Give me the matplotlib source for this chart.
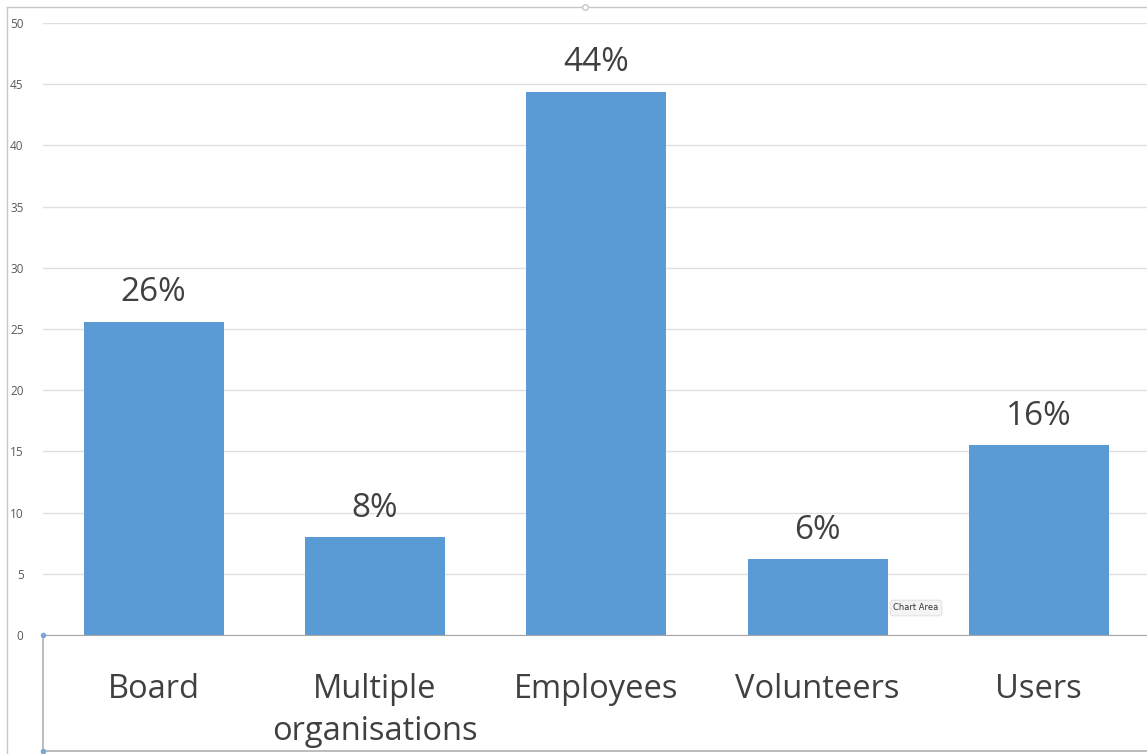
import matplotlib.pyplot as plt
from matplotlib.lines import Line2D

categories = ['Board', 'Multiple\norganisations', 'Employees', 'Volunteers', 'Users']
values = [25.6, 8.0, 44.4, 6.2, 15.5]
pct_labels = ['26%', '8%', '44%', '6%', '16%']
yticks = [0, 5, 10, 15, 20, 25, 30, 35, 40, 45, 50]

W, H = 1147, 754
fig = plt.figure(figsize=(W / 100, H / 100), dpi=100)
plt.rcParams['font.family'] = ['Open Sans', 'DejaVu Sans']

# axes placed in pixel terms of the reference
left, right, top, bottom = 43, 1149.5, 23, 635
ax = fig.add_axes([left / W, 1 - bottom / H, (right - left) / W, (bottom - top) / H])

x = range(len(categories))
ax.bar(x, values, width=0.633, color='#5b9bd5', zorder=2)
for xi, v, lab in zip(x, values, pct_labels):
    ax.text(xi, v + 1.0, lab, ha='center', va='bottom', fontsize=24, color='#404040')

ax.set_xlim(-0.5, 4.5)
ax.set_ylim(0, 50)
ax.set_yticks(yticks)
ax.set_yticklabels([str(t) for t in yticks], fontsize=8.5, color='#595959')
ax.tick_params(axis='y', length=0, pad=14)
ax.set_xticks(list(x))
ax.set_xticklabels(categories, fontsize=23.5, color='#404040', linespacing=1.4)
ax.tick_params(axis='x', length=0, pad=27)
ax.grid(axis='y', color='#e0e0e0', linewidth=1, zorder=0)
for s in ['top', 'right', 'left']:
    ax.spines[s].set_visible(False)
ax.spines['bottom'].set_color('#a6a6a6')

# outer frame pieces
def px_line(x0, y0, x1, y1, color='#c8c8c8', lw=1):
    fig.add_artist(Line2D([x0 / W, x1 / W], [1 - y0 / H, 1 - y1 / H],
                         color=color, linewidth=lw, transform=fig.transFigure))

px_line(7, 7, W, 7)
px_line(7, 7, 7, H)
px_line(43, 635, 43, 751, color='#b0b0b0', lw=1.2)
px_line(43, 751, W, 751, color='#b0b0b0', lw=1.2)
for (px, py) in [(43, 635), (43, 751)]:
    fig.add_artist(Line2D([px / W], [1 - py / H], marker='o', markersize=3,
                         color='#7aa7d6', transform=fig.transFigure))
fig.add_artist(Line2D([585 / W], [1 - 7 / H], marker='o', markersize=4,
                     markerfacecolor='white', markeredgecolor='#c8c8c8',
                     transform=fig.transFigure))

# "Chart Area" tooltip
fig.text(916 / W, 1 - 608 / H, 'Chart Area', fontsize=6, color='#333333',
         ha='center', va='center', family=['DejaVu Sans'],
         bbox=dict(boxstyle='round,pad=0.4', fc='#f4f4f4', ec='#dddddd', lw=0.6))

fig.savefig('out.png', dpi=100)
